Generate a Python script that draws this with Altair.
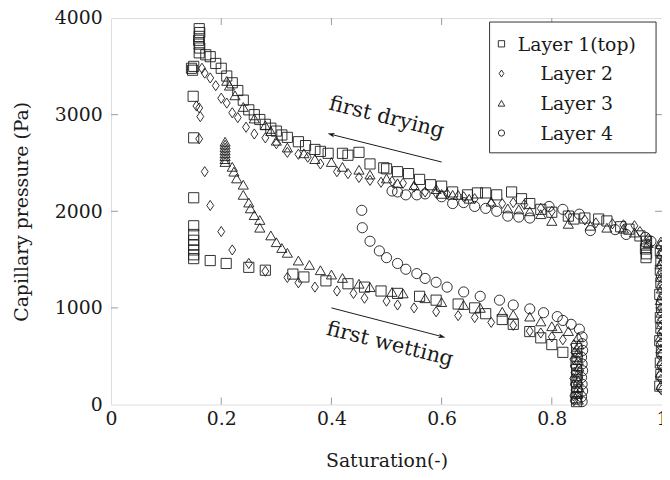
import altair as alt
import pandas as pd

# ---------------- data ----------------
layers = ["Layer 1(top)", "Layer 2", "Layer 3", "Layer 4"]

# Layer 1 (top) - squares
l1_dry_s = [0.996, 0.998, 0.997, 0.999, 0.996, 0.998, 0.997, 0.999, 0.996, 0.998, 0.997, 0.998, 0.997,
            0.971, 0.972, 0.970, 0.971, 0.972,
            0.96, 0.94, 0.925, 0.90, 0.885, 0.86, 0.84, 0.83, 0.80, 0.78, 0.76, 0.745, 0.727, 0.70, 0.68,
            0.665, 0.647, 0.62, 0.60, 0.58, 0.56, 0.54, 0.52, 0.50, 0.495, 0.47, 0.45, 0.43, 0.42, 0.394,
            0.38, 0.37, 0.353, 0.34, 0.32, 0.31, 0.30, 0.29, 0.28, 0.27, 0.26, 0.25, 0.24, 0.23, 0.22,
            0.21, 0.20, 0.19, 0.18, 0.172,
            0.160, 0.161, 0.160, 0.159, 0.160, 0.161, 0.160]
l1_dry_p = [190, 310, 430, 550, 660, 790, 900, 1030, 1140, 1260, 1390, 1490, 1590,
            1520, 1560, 1610, 1650, 1690,
            1745, 1815, 1840, 1900, 1920, 1930, 1920, 1950, 1990, 2020, 2080, 2130, 2200, 2170, 2190,
            2190, 2170, 2200, 2260, 2275, 2330, 2390, 2410, 2440, 2450, 2490, 2610, 2580, 2600, 2600,
            2620, 2640, 2680, 2720, 2765, 2790, 2830, 2860, 2900, 2950, 3000, 3050, 3150, 3250, 3330,
            3400, 3480, 3530, 3600, 3620,
            3640, 3690, 3730, 3770, 3810, 3850, 3890]
l1_wet_s = [0.146, 0.148, 0.150, 0.149, 0.150, 0.150, 0.150, 0.150, 0.150, 0.150, 0.150, 0.150, 0.150,
            0.18, 0.209, 0.25, 0.28, 0.33, 0.35, 0.39, 0.43, 0.46, 0.49, 0.52, 0.56, 0.59, 0.63, 0.66,
            0.68, 0.71, 0.73, 0.76, 0.78, 0.80, 0.82,
            0.845, 0.846, 0.844, 0.845, 0.846, 0.844, 0.845, 0.846, 0.844, 0.845]
l1_wet_p = [3480, 3460, 3500, 3190, 2760, 2140, 1850, 1760, 1700, 1650, 1600, 1550, 1510,
            1490, 1460, 1420, 1390, 1350, 1320, 1280, 1250, 1215, 1175, 1150, 1120, 1080, 1040, 1000,
            940, 880, 830, 755, 690, 620, 540,
            580, 500, 430, 360, 300, 240, 180, 120, 70, 30]

# Layer 2 - diamonds
l2_dry_s = [0.999, 0.998, 1.000, 0.999, 0.998, 1.000, 0.999, 0.998, 1.000, 0.999, 0.998, 1.000, 0.999, 0.998,
            0.975, 0.96, 0.95, 0.93, 0.91, 0.88, 0.86, 0.83, 0.80, 0.78, 0.75, 0.73, 0.71, 0.69, 0.66,
            0.64, 0.61, 0.59, 0.57, 0.55, 0.53, 0.51, 0.49, 0.47, 0.45, 0.43, 0.41, 0.38, 0.357, 0.34,
            0.32, 0.30, 0.28, 0.26, 0.245, 0.23, 0.22, 0.21, 0.20, 0.19, 0.18, 0.17, 0.165]
l2_dry_p = [150, 260, 380, 520, 640, 760, 880, 1000, 1130, 1250, 1370, 1480, 1580, 1680,
            1720, 1790, 1850, 1860, 1870, 1880, 1910, 1960, 2000, 2030, 2070, 2090, 2080, 2080, 2130,
            2150, 2180, 2190, 2200, 2250, 2290, 2310, 2300, 2320, 2350, 2390, 2410, 2490, 2560, 2590,
            2610, 2700, 2760, 2800, 2870, 2970, 3020, 3120, 3170, 3300, 3380, 3430, 3480]
l2_wet_s = [0.155, 0.160, 0.162, 0.160, 0.17, 0.18, 0.20, 0.22, 0.25, 0.28, 0.32, 0.34, 0.37, 0.41,
            0.44, 0.46, 0.50, 0.52, 0.55, 0.59, 0.63, 0.66, 0.69, 0.73, 0.76, 0.78, 0.80, 0.82,
            0.840, 0.841, 0.839, 0.840, 0.841, 0.839, 0.840, 0.841, 0.839, 0.840]
l2_wet_p = [3090, 3070, 2980, 2750, 2410, 2060, 1790, 1600, 1460, 1380, 1315, 1260, 1215, 1175,
            1150, 1100, 1070, 1030, 1000, 960, 920, 900, 850, 820, 760, 740, 700, 670,
            620, 540, 470, 400, 330, 270, 210, 150, 90, 40]

# Layer 3 - triangles
l3_dry_s = [0.998, 0.997, 0.999, 0.998, 0.997, 0.999, 0.998, 0.997, 0.999, 0.998, 0.997, 0.999, 0.998,
            0.975, 0.95, 0.93, 0.90, 0.87, 0.83, 0.80, 0.78, 0.76, 0.74, 0.72, 0.69, 0.65, 0.63, 0.62,
            0.60, 0.59, 0.55, 0.52, 0.50, 0.47, 0.45, 0.42, 0.40, 0.37, 0.35, 0.32, 0.30, 0.29, 0.28,
            0.26, 0.24, 0.225, 0.215, 0.21]
l3_dry_p = [200, 330, 450, 580, 700, 830, 950, 1080, 1200, 1320, 1450, 1560, 1660,
            1670, 1780, 1820, 1830, 1850, 1870, 1900, 1970, 2000, 2020, 2030, 2100, 2130, 2170, 2170,
            2180, 2230, 2270, 2290, 2340, 2380, 2430, 2460, 2510, 2540, 2600, 2660, 2730, 2830, 2890,
            2960, 3080, 3200, 3300, 3350]
l3_wet_s = [0.207, 0.207, 0.207, 0.207, 0.207, 0.207, 0.207, 0.207,
            0.22, 0.223, 0.228, 0.24, 0.24, 0.25, 0.253, 0.26, 0.27, 0.27, 0.29, 0.30, 0.31, 0.32,
            0.34, 0.36, 0.38, 0.40, 0.42, 0.45, 0.47, 0.51, 0.53, 0.57, 0.60, 0.64, 0.67, 0.71, 0.73,
            0.76, 0.78, 0.80, 0.81, 0.83,
            0.848, 0.849, 0.847, 0.848, 0.849, 0.847, 0.848, 0.849, 0.847, 0.848]
l3_wet_p = [2720, 2690, 2660, 2630, 2600, 2570, 2540, 2510,
            2460, 2410, 2340, 2275, 2170, 2090, 2030, 1960, 1910, 1830, 1750, 1680, 1620, 1570,
            1490, 1445, 1390, 1345, 1310, 1250, 1215, 1165, 1150, 1100, 1060, 1030, 1000, 960, 930,
            910, 860, 810, 790, 760,
            700, 620, 540, 460, 390, 320, 250, 180, 110, 50]

# Layer 4 - circles
l4_dry_s = [1.000, 0.999, 1.001, 1.000, 0.999, 1.001, 1.000, 0.999, 1.001, 1.000, 0.999, 1.001, 1.000, 0.999,
            0.98, 0.97, 0.935, 0.915, 0.87, 0.85, 0.82, 0.795, 0.76, 0.74, 0.72, 0.70, 0.68, 0.66,
            0.64, 0.62, 0.60, 0.57, 0.555, 0.535, 0.52, 0.51]
l4_dry_p = [170, 290, 400, 510, 620, 730, 850, 970, 1090, 1210, 1330, 1440, 1550, 1640,
            1690, 1730, 1760, 1810, 1800, 1970, 2020, 2050, 1930, 1940, 1950, 2000, 2030, 2050,
            2090, 2080, 2150, 2180, 2170, 2170, 2200, 2210]
l4_wet_s = [0.455, 0.456, 0.47, 0.487, 0.50, 0.52, 0.535, 0.555, 0.57, 0.59, 0.61, 0.64, 0.67, 0.705,
            0.73, 0.76, 0.785, 0.81, 0.82, 0.835, 0.85, 0.855,
            0.855, 0.856, 0.854, 0.855, 0.856, 0.854, 0.855, 0.856, 0.854, 0.855]
l4_wet_p = [2010, 1830, 1690, 1590, 1520, 1460, 1400, 1355, 1305, 1265, 1215, 1165, 1120, 1080,
            1030, 990, 950, 910, 870, 830, 780, 700,
            630, 560, 490, 420, 350, 280, 210, 140, 80, 30]

x_ticks = [0.2, 0.4, 0.6, 0.8]
y_ticks = [1000, 2000, 3000]
x_labels = [0, 0.2, 0.4, 0.6, 0.8, 1]
y_labels = [0, 1000, 2000, 3000, 4000]

annot_text = ["first drying", "first wetting"]
annot_s = [0.50, 0.506]
annot_p = [2968, 622]
arrow_s1 = [0.60, 0.40]
arrow_p1 = [2510, 1000]
arrow_s2 = [0.40, 0.60]
arrow_p2 = [2795, 704]

# ---------------- build ----------------
frames = []
for name, s, p in [(layers[0], l1_dry_s + l1_wet_s, l1_dry_p + l1_wet_p),
                   (layers[1], l2_dry_s + l2_wet_s, l2_dry_p + l2_wet_p),
                   (layers[2], l3_dry_s + l3_wet_s, l3_dry_p + l3_wet_p),
                   (layers[3], l4_dry_s + l4_wet_s, l4_dry_p + l4_wet_p)]:
    frames.append(pd.DataFrame({"S": s, "P": p, "layer": name}))
df = pd.concat(frames, ignore_index=True)

W, H = 556, 390
FONT = "DejaVu Serif"
FS = 19
INK = "#1a1a1a"
DIAMOND = "M0,-1L0.68,0L0,1L-0.68,0Z"
ARROW = "M0,-1L0.6,0.8L0,0.35L-0.6,0.8Z"

xs = alt.Scale(domain=[0, 1], nice=False, zero=False)
ys = alt.Scale(domain=[0, 4000], nice=False)

xaxis = alt.Axis(values=x_labels, ticks=False, domain=False, grid=False,
                 labelExpr="datum.value == 0 ? '0' : datum.value == 1 ? '1' : format(datum.value, '.1f')",
                 labelFont=FONT, labelFontSize=FS, labelColor=INK, labelPadding=5,
                 labelFlush=False, labelOverlap=False,
                 title="Saturation(-)", titleFont=FONT, titleFontSize=FS, titleFontWeight="normal",
                 titleColor=INK, titleX=W / 2, titleY=57, titleBaseline="middle")
yaxis = alt.Axis(values=y_labels, format="d", ticks=False, domain=False, grid=False,
                 labelFont=FONT, labelFontSize=FS, labelColor=INK, labelPadding=9,
                 labelFlush=False, labelOverlap=False,
                 title="Capillary pressure (Pa)", titleFont=FONT, titleFontSize=FS,
                 titleFontWeight="normal", titleColor=INK, titleX=-90, titleY=H / 2,
                 titleBaseline="middle")

X = lambda f="S": alt.X(f"{f}:Q", scale=xs, axis=xaxis)
Y = lambda f="P": alt.Y(f"{f}:Q", scale=ys, axis=yaxis)

shape_scale = alt.Scale(domain=layers, range=["square", DIAMOND, "triangle-up", "circle"])

points = alt.Chart(df).mark_point(filled=False, strokeWidth=0.9, color=INK, opacity=1, size=105).encode(
    x=X(), y=Y(), shape=alt.Shape("layer:N", scale=shape_scale, legend=None))

tick_col = "#9a9a9a"
xt = pd.DataFrame({"S": x_ticks})
yt = pd.DataFrame({"P": y_ticks})
t_bot = alt.Chart(xt).mark_rule(color=tick_col, strokeWidth=1).encode(x=X(), y=alt.value(H), y2=alt.value(H - 7))
t_top = alt.Chart(xt).mark_rule(color=tick_col, strokeWidth=1).encode(x=X(), y=alt.value(0), y2=alt.value(7))
t_left = alt.Chart(yt).mark_rule(color=tick_col, strokeWidth=1).encode(y=Y(), x=alt.value(0), x2=alt.value(7))
t_right = alt.Chart(yt).mark_rule(color=tick_col, strokeWidth=1).encode(y=Y(), x=alt.value(W), x2=alt.value(W - 7))

arr = pd.DataFrame({"S": arrow_s1, "P": arrow_p1, "S2": arrow_s2, "P2": arrow_p2})
arrows = alt.Chart(arr).mark_rule(color=INK, strokeWidth=1).encode(
    x=X(), y=Y(), x2="S2:Q", y2="P2:Q")
heads_df = pd.DataFrame({"S": arrow_s2, "P": arrow_p2, "ang": [284, 105]})
heads = alt.Chart(heads_df).mark_point(shape=ARROW, filled=True, size=64, color=INK, opacity=1).encode(
    x=X(), y=Y(), angle=alt.Angle("ang:Q", scale=None))
ann_df = pd.DataFrame({"S": annot_s, "P": annot_p, "t": annot_text})
ann = alt.Chart(ann_df).mark_text(font=FONT, fontSize=21, angle=14, color=INK, baseline="middle").encode(
    x=X(), y=Y(), text="t:N")

# legend (drawn by hand, like the pgfplots box)
one = pd.DataFrame({"a": [0]})
leg = [alt.Chart(one).mark_rect(fill="white", stroke="#333333", strokeWidth=1).encode(
    x=alt.value(382), x2=alt.value(550), y=alt.value(4), y2=alt.value(136))]
leg_shapes = ["square", DIAMOND, "triangle-up", "circle"]
leg_sizes = [40, 50, 45, 40]
for i, (lab, shp, sz) in enumerate(zip(layers, leg_shapes, leg_sizes)):
    yy = 26 + 30 * i
    leg.append(alt.Chart(one).mark_point(shape=shp, filled=False, size=sz, color=INK, strokeWidth=0.9, opacity=1)
               .encode(x=alt.value(394), y=alt.value(yy)))
    leg.append(alt.Chart(one).mark_text(font=FONT, fontSize=19, color=INK, align="center", baseline="middle",
                                        text=lab)
               .encode(x=alt.value(470), y=alt.value(yy + 1)))

chart = alt.layer(t_bot, t_top, t_left, t_right, points, arrows, heads, ann, *leg).properties(
    width=W, height=H,
    autosize=alt.AutoSizeParams(type="none"),
    padding={"left": 104, "top": 8, "right": 0, "bottom": 70},
).configure_view(stroke="black", strokeWidth=1.2).configure(background="white")

chart.save("out.html", embed_options={"renderer": "svg", "actions": False})
